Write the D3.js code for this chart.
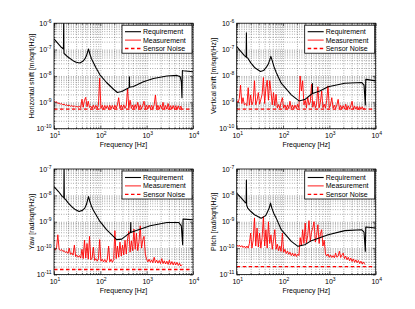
<!DOCTYPE html>
<html><head><meta charset="utf-8">
<script src="https://cdn.jsdelivr.net/npm/d3@7"></script>
<style>
body{margin:0;background:#fff}
svg{display:block}
text{font-family:'Liberation Sans',Arial,Helvetica,sans-serif;fill:#000}
</style>
</head><body>
<svg id="c" width="415" height="309"></svg>
<script>
// ---------------- data ----------------
const xLabel = "Frequency [Hz]";
const yLabels = ["Horizontal shift [m/sqrt(Hz)]","Vertical shift [m/sqrt(Hz)]","Yaw [rad/sqrt(Hz)]","Pitch [rad/sqrt(Hz)]"];
const legendNames = ["Requirement","Measurement","Sensor Noise"];
const xDomain = [10, 10000];
const yDomains = [[1e-10,1e-6],[1e-10,1e-6],[1e-11,1e-7],[1e-11,1e-7]];
const xTickExps = [1,2,3,4];
const yTickExps = [[-10,-9,-8,-7,-6],[-10,-9,-8,-7,-6],[-11,-10,-9,-8,-7],[-11,-10,-9,-8,-7]];

const reqH = [[10,2.53e-7],[14.4,1.22e-7],[16.0,1.05e-7],[16.2,1.5e-6],[16.4,7.2e-8],[17,6.8e-8],[20,5.2e-8],[25.8,3.8e-8],[30,3.3e-8],[36.1,3.1e-8],[42,3.6e-8],[46.3,4.4e-8],[50,5.8e-8],[52.9,7.9e-8],[55.6,1.05e-7],[57.5,8.5e-8],[59.4,6.8e-8],[64,4.6e-8],[70.2,3.3e-8],[80,2.1e-8],[98,1.1e-8],[136,5.65e-9],[190,3.2e-9],[233,2.35e-9],[290,2.57e-9],[403,3.5e-9],[420,3.65e-9],[424,9.3e-9],[428,3.7e-9],[517,4.0e-9],[852,6.0e-9],[1400,8.0e-9],[2730,9.9e-9],[4510,1.05e-8],[5330,9.3e-9],[5600,6e-9],[5780,1.5e-9],[5900,1.6e-8],[6080,1.58e-8],[10000,1.44e-8]];
const reqV = [[10,1.29e-7],[12,9e-8],[14.7,5.9e-8],[16.0,5.2e-8],[16.2,4.3e-7],[16.4,5e-8],[17.3,4.8e-8],[20,3.2e-8],[24.2,2.1e-8],[32.6,1.48e-8],[38,1.6e-8],[43.3,2.1e-8],[48,2.8e-8],[51.1,3.8e-8],[54.6,5.5e-8],[58.4,3.8e-8],[64,2.2e-8],[71.3,1.36e-8],[91.5,5.3e-9],[151,1.92e-9],[221,1.13e-9],[294,1.27e-9],[410,2.03e-9],[426,2.1e-9],[430,5.2e-9],[434,2.15e-9],[621,2.7e-9],[942,3.9e-9],[2160,5.3e-9],[4970,5.65e-9],[5600,4.5e-9],[5980,7.9e-10],[6100,7.4e-9],[6280,7.4e-9],[10000,6.5e-9]];
const reqYaw = [[10,2.15e-8],[12.5,1.4e-8],[15.2,9e-9],[16.3,8.2e-9],[16.5,1.3e-7],[16.7,7.5e-9],[17.6,7.2e-9],[20,5.3e-9],[23.8,3.8e-9],[28,3e-9],[34.8,2.45e-9],[41,2.7e-9],[46.2,3.3e-9],[50,4.5e-9],[52,5.85e-9],[55.6,9e-9],[57.5,7.3e-9],[59.4,5.85e-9],[64,4e-9],[70.2,2.8e-9],[98,1.03e-9],[136,5e-10],[225,2.1e-10],[290,2.2e-10],[424,3.7e-10],[449,3.9e-10],[453,9.4e-10],[457,3.95e-10],[517,4.3e-10],[1190,7.1e-10],[2740,9.4e-10],[4900,9.4e-10],[5600,7e-10],[5990,1.35e-10],[6100,1.26e-9],[6280,1.26e-9],[10000,1.19e-9]];
const reqPitch = [[10,1.21e-8],[12.5,8e-9],[15.2,5.4e-9],[16.0,5.1e-9],[16.2,3.85e-8],[16.4,4.2e-9],[17.3,3.3e-9],[20,2.5e-9],[24.2,1.84e-9],[33.7,1.37e-9],[40,1.6e-9],[43.3,1.84e-9],[50.3,3.3e-9],[53.7,5.1e-9],[57.4,3.3e-9],[63,2.1e-9],[71.3,1.37e-9],[91.5,5e-10],[151,1.8e-10],[210,1.17e-10],[294,1.35e-10],[410,1.92e-10],[942,3.2e-10],[2160,4.6e-10],[4970,5e-10],[5600,4e-10],[5980,7.6e-11],[6100,6.3e-10],[6280,6.3e-10],[10000,5.8e-10]];

const measFreq = [10,10.7,11.4,12.1,12.9,13.7,14.6,15.6,16.6,17.7,
18.8,20,21.3,22.7,24.2,25.8,27.5,29.3,31.2,33.2,
35.4,37.7,40.1,42.7,45.5,48.4,51.6,54.9,58.5,62.3,
66.4,70.7,75.3,80.2,85.4,90.9,96.8,103,110,117,
125,133,141,151,160,171,182,194,206,220,
234,249,265,283,301,320,341,363,387,412,
439,467,498,530,565,601,640,682,726,774,
824,877,934,995,1060,1129,1202,1280,1363,1452,
1546,1647,1754,1868,1989,2118,2256,2403,2559,2725,
2902,3091,3292,3506,3734,3976,4235,4510,4803,5115,
5448,5800];

const measH = [1.15e-9,1.0e-9,1.05e-9,9.0e-10,9.5e-10,8.5e-10,9.0e-10,8.0e-10,8.6e-10,7.6e-10,
8.2e-10,7.3e-10,7.9e-10,7.0e-10,7.6e-10,6.8e-10,7.4e-10,6.6e-10,7.2e-10,6.4e-10,
7.3e-10,6.3e-10,1.3e-9,6.5e-10,1.2e-9,1.55e-9,6.8e-10,1.1e-9,6.4e-10,7.2e-10,
5.9e-10,7.8e-10,5.8e-10,7.7e-10,5.9e-10,7.6e-10,8.3e-9,5.8e-10,7.8e-10,5.7e-10,
7.6e-10,5.8e-10,7.5e-10,5.7e-10,7.8e-10,5.8e-10,7.6e-10,5.6e-10,7.8e-10,5.9e-10,
8.0e-10,1.5e-9,5.9e-10,7.9e-10,5.8e-10,8.0e-10,5.9e-10,7.8e-10,3.4e-9,6.0e-10,
1.2e-9,5.9e-10,7.9e-10,5.8e-10,8.2e-10,5.9e-10,1.0e-9,5.8e-10,7.8e-10,5.7e-10,
7.7e-10,1.1e-9,5.8e-10,7.8e-10,5.6e-10,7.9e-10,5.8e-10,7.7e-10,5.7e-10,8.0e-10,
1.9e-9,5.8e-10,7.7e-10,5.6e-10,7.8e-10,5.7e-10,1.0e-9,5.6e-10,7.6e-10,5.5e-10,
9.0e-10,5.6e-10,7.5e-10,5.5e-10,7.6e-10,5.5e-10,7.5e-10,5.4e-10,7.4e-10,5.4e-10,
7.2e-10,5.5e-10];

const measV = [1.2e-9,9.5e-10,1.4e-9,4.5e-9,9.0e-10,1.5e-9,8.0e-10,9.0e-10,7.5e-10,3.6e-9,
7.8e-10,1.9e-9,8.0e-10,1.1e-9,6.6e-9,8.0e-10,1.2e-9,2.35e-9,8.5e-10,1.3e-9,
2.0e-9,8.7e-9,9.0e-10,3.6e-9,6.9e-9,1.2e-9,6.6e-9,2.7e-9,8.0e-10,2.35e-9,
7.5e-10,2.0e-9,6.2e-10,8.2e-10,6.0e-10,1.0e-9,1.5e-9,6.0e-10,8.0e-10,5.8e-10,
8.0e-10,5.8e-10,1.1e-9,5.9e-10,7.9e-10,5.8e-10,7.8e-10,5.8e-10,8.5e-10,6.2e-10,
1.0e-8,2.7e-9,6.6e-9,8.0e-10,1.2e-9,6.2e-10,1.6e-9,8.0e-10,1.0e-9,4.9e-9,
6.5e-10,1.1e-9,6.2e-10,8.5e-10,3.9e-9,6.2e-10,1.0e-9,2.7e-9,6.2e-10,8.5e-10,
6.0e-10,1.2e-9,4.2e-9,6.2e-10,8.0e-10,1.5e-9,6.0e-10,7.8e-10,5.8e-10,8.0e-10,
1.3e-9,5.8e-10,7.6e-10,5.7e-10,7.5e-10,5.6e-10,8.5e-10,5.6e-10,7.4e-10,5.5e-10,
7.3e-10,1.1e-9,5.6e-10,7.2e-10,5.5e-10,7.0e-10,5.5e-10,6.9e-10,5.4e-10,6.8e-10,
5.4e-10,6.2e-10];

const measYaw = [9.3e-11,8.5e-11,1.1e-10,3.2e-10,9e-11,8.2e-11,8.8e-11,7.5e-11,8.0e-11,6.8e-11,
7.4e-11,6.3e-11,1.0e-10,5.8e-11,6.6e-11,5.4e-11,1.3e-10,4.8e-11,5.4e-11,4.5e-11,
5.2e-11,4.2e-11,9e-11,4.0e-11,2.0e-10,4.2e-11,1.5e-10,3.8e-11,2.8e-10,3.6e-11,
4.2e-11,1.1e-10,3.4e-11,4.0e-11,3.2e-11,3.9e-11,2.1e-10,3.2e-11,3.8e-11,3.0e-11,
3.7e-11,2.9e-11,3.6e-11,1.2e-10,3.0e-11,3.8e-11,2.9e-11,3.7e-11,4.6e-10,4.0e-11,
1.2e-10,4.5e-11,1.7e-10,5.0e-11,1.3e-10,5.5e-11,2.0e-10,6.0e-11,2.3e-10,4.3e-10,
7.0e-11,1.9e-10,8.0e-11,5.3e-10,9.0e-11,3.7e-10,8.0e-11,1.7e-10,7.0e-10,1.0e-10,
2.0e-10,2.8e-10,6.0e-11,3.8e-11,3.0e-11,3.8e-11,2.9e-11,3.6e-11,2.8e-11,4.5e-11,
2.8e-11,3.5e-11,2.7e-11,3.4e-11,2.6e-11,4.0e-11,2.6e-11,3.3e-11,2.5e-11,3.2e-11,
2.4e-11,3.5e-11,2.4e-11,3.1e-11,2.3e-11,3.0e-11,2.3e-11,2.9e-11,2.2e-11,2.7e-11,
2.1e-11,2.4e-11];

const measPitch = [1.35e-10,1.15e-10,1.3e-10,1.1e-10,1.25e-10,1.05e-10,1.2e-10,1.0e-10,1.2e-10,1.0e-10,
1.5e-10,3.7e-10,1.0e-10,2.0e-10,1.4e-9,1.2e-10,5.8e-10,1.1e-10,3.7e-10,1.0e-10,
2.5e-10,1.6e-9,1.2e-10,5.0e-10,1.0e-10,1.0e-9,1.5e-10,3.2e-10,9.0e-11,2.0e-10,
5.0e-10,9.0e-11,1.4e-10,8.0e-11,1.2e-10,7.5e-11,3.7e-10,7.0e-11,9.0e-11,6.2e-11,
7.8e-11,5.8e-11,7.0e-11,5.2e-11,6.5e-11,5.0e-11,6.2e-11,4.8e-11,6.0e-11,5.2e-11,
2.5e-10,1.2e-10,5.0e-10,1.5e-10,8.9e-10,1.6e-10,3.0e-10,1.1e-9,1.8e-10,4.0e-10,
6.0e-10,1.0e-9,1.7e-10,3.0e-10,7.7e-10,1.5e-10,3.5e-10,5.0e-10,1.2e-10,2.0e-10,
6.0e-11,5.0e-11,6.0e-11,4.5e-11,5.5e-11,4.4e-11,5.2e-11,4.3e-11,6.5e-11,4.5e-11,
5.0e-11,7.6e-11,4.4e-11,5.5e-11,6.5e-11,4.0e-11,5.0e-11,3.6e-11,4.5e-11,3.3e-11,
4.2e-11,3.1e-11,3.9e-11,2.9e-11,3.6e-11,2.8e-11,3.4e-11,2.6e-11,3.2e-11,2.5e-11,
3.0e-11,2.4e-11];

const noiseFreq = [10, 8700];
const noiseH = [5.5e-10, 5.5e-10];
const noiseV = [5.5e-10, 5.5e-10];
const noiseYaw = [1.55e-11, 1.55e-11];
const noisePitch = [2.0e-11, 2.0e-11];

// ---------------- layout ----------------
const colLeft = [54, 236.7], PW = 139;
const rowTop = [23.2, 169], PH = 105.5;
const panels = [
  {req:reqH, meas:measH, noise:noiseH},
  {req:reqV, meas:measV, noise:noiseV},
  {req:reqYaw, meas:measYaw, noise:noiseYaw},
  {req:reqPitch, meas:measPitch, noise:noisePitch}
];
const svg = d3.select('#c');
const defs = svg.append('defs');
const FS = 7, FSE = 5;

panels.forEach((p,i)=>{
  const x0 = colLeft[i%2], y0 = rowTop[Math.floor(i/2)];
  const x = d3.scaleLog().domain(xDomain).range([x0, x0+PW]);
  const y = d3.scaleLog().domain(yDomains[i]).range([y0+PH, y0]);
  const g = svg.append('g');

  // grid (major + minor, dotted)
  const gridStyle = s => { s.select('.domain').remove();
    s.selectAll('line').attr('stroke','#333').attr('stroke-width',0.5).attr('stroke-dasharray','0.8,1.6'); };
  g.append('g').attr('transform',`translate(0,${y0+PH})`)
    .call(d3.axisBottom(x).tickValues(x.ticks()).tickSize(-PH).tickFormat('')).call(gridStyle);
  g.append('g').attr('transform',`translate(${x0},0)`)
    .call(d3.axisLeft(y).tickValues(y.ticks()).tickSize(-PW).tickFormat('')).call(gridStyle);

  // data lines
  const cid = 'clip'+i;
  defs.append('clipPath').attr('id',cid).append('rect').attr('x',x0).attr('y',y0).attr('width',PW).attr('height',PH);
  const line = d3.line().x(d=>x(d[0])).y(d=>y(d[1]));
  const pg = g.append('g').attr('clip-path',`url(#${cid})`);
  const noiseData = noiseFreq.map((f,k)=>[f,p.noise[k]]);
  const measData = measFreq.map((f,k)=>[f,p.meas[k]]).filter(d=>d[1]!=null);
  pg.append('path').datum(measData).attr('d',line).attr('fill','none').attr('stroke','#ff0000').attr('stroke-width',0.9).attr('stroke-linejoin','round');
  pg.append('path').datum(noiseData).attr('d',line).attr('fill','none').attr('stroke','#ff0000').attr('stroke-width',1.3).attr('stroke-dasharray','3.5,2.5');
  pg.append('path').datum(p.req).attr('d',line).attr('fill','none').attr('stroke','#000').attr('stroke-width',1.1).attr('stroke-linejoin','round');

  // box
  g.append('rect').attr('x',x0).attr('y',y0).attr('width',PW).attr('height',PH).attr('fill','none').attr('stroke','#000').attr('stroke-width',0.8);

  // inner ticks on all sides
  const tk = (axis, tr, vals, size) => g.append('g').attr('transform',tr)
      .call(axis.tickValues(vals).tickSize(size).tickFormat(''))
      .call(s=>{s.select('.domain').remove(); s.selectAll('line').attr('stroke','#000').attr('stroke-width',0.6);});
  const xMaj = xTickExps.map(e=>Math.pow(10,e));
  const yMaj = yTickExps[i].map(e=>Math.pow(10,e));
  const xMin = x.ticks().filter(v=>!xMaj.some(m=>Math.abs(m-v)/m<1e-6));
  const yMin = y.ticks().filter(v=>!yMaj.some(m=>Math.abs(m-v)/m<1e-6));
  tk(d3.axisBottom(x), `translate(0,${y0+PH})`, xMaj, -3);
  tk(d3.axisTop(x), `translate(0,${y0})`, xMaj, -3);
  tk(d3.axisBottom(x), `translate(0,${y0+PH})`, xMin, -1.5);
  tk(d3.axisTop(x), `translate(0,${y0})`, xMin, -1.5);
  tk(d3.axisLeft(y), `translate(${x0},0)`, yMaj, -3);
  tk(d3.axisRight(y), `translate(${x0+PW},0)`, yMaj, -3);
  tk(d3.axisLeft(y), `translate(${x0},0)`, yMin, -1.5);
  tk(d3.axisRight(y), `translate(${x0+PW},0)`, yMin, -1.5);

  // x tick labels
  xTickExps.forEach(e=>{
    const t = g.append('text').attr('x',x(Math.pow(10,e))+1).attr('y',y0+PH+9.6).attr('text-anchor','middle').attr('font-size',FS);
    t.append('tspan').text('10');
    t.append('tspan').attr('dy',-3).attr('font-size',FSE).text(e);
  });
  // y tick labels
  yTickExps[i].forEach(e=>{
    const t = g.append('text').attr('x',x0-2.5).attr('y',y(Math.pow(10,e))+2.5).attr('text-anchor','end').attr('font-size',FS);
    t.append('tspan').text('10');
    t.append('tspan').attr('dy',-3).attr('font-size',FSE).text(e);
  });
  // axis labels
  g.append('text').attr('x',x0+PW/2).attr('y',y0+PH+18.5).attr('text-anchor','middle').attr('font-size',FS).text(xLabel);
  g.append('text').attr('transform',`translate(${x0-20.5},${y0+PH/2}) rotate(-90)`).attr('text-anchor','middle').attr('font-size',FS).text(yLabels[i]);

  // legend
  const lw = 70, lh = 28, lx = x0+PW-1-lw, ly = y0+2;
  const lg = g.append('g');
  lg.append('rect').attr('x',lx).attr('y',ly).attr('width',lw).attr('height',lh).attr('fill','#fff').attr('stroke','#000').attr('stroke-width',0.8);
  const rows = [ {c:'#000',w:1.1,d:null}, {c:'#ff0000',w:0.9,d:null}, {c:'#ff0000',w:1.3,d:'3.5,2.5'} ];
  rows.forEach((r,k)=>{
    const cy = ly + 6.5 + k*8.4;
    lg.append('line').attr('x1',lx+3).attr('x2',lx+19).attr('y1',cy).attr('y2',cy).attr('stroke',r.c).attr('stroke-width',r.w).attr('stroke-dasharray',r.d);
    lg.append('text').attr('x',lx+21).attr('y',cy+2.5).attr('font-size',FS).text(legendNames[k]);
  });
});
</script>
</body></html>
